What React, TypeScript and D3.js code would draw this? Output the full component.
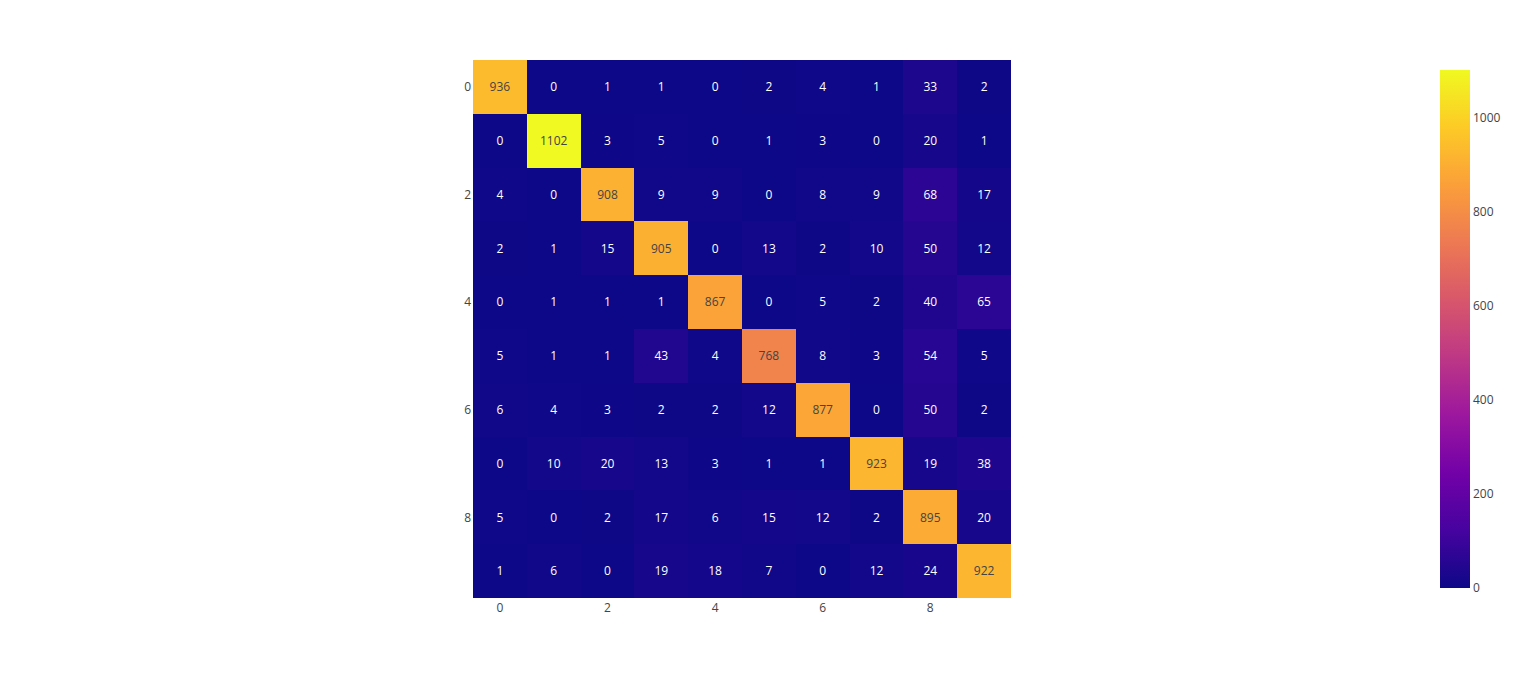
import React from "react";
import * as d3 from "d3";

const labels = [0, 1, 2, 3, 4, 5, 6, 7, 8, 9];
const axisTicks = [0, 2, 4, 6, 8];
const values: number[][] = [
  [936, 0, 1, 1, 0, 2, 4, 1, 33, 2],
  [0, 1102, 3, 5, 0, 1, 3, 0, 20, 1],
  [4, 0, 908, 9, 9, 0, 8, 9, 68, 17],
  [2, 1, 15, 905, 0, 13, 2, 10, 50, 12],
  [0, 1, 1, 1, 867, 0, 5, 2, 40, 65],
  [5, 1, 1, 43, 4, 768, 8, 3, 54, 5],
  [6, 4, 3, 2, 2, 12, 877, 0, 50, 2],
  [0, 10, 20, 13, 3, 1, 1, 923, 19, 38],
  [5, 0, 2, 17, 6, 15, 12, 2, 895, 20],
  [1, 6, 0, 19, 18, 7, 0, 12, 24, 922],
];
const colorbarTicks = [0, 200, 400, 600, 800, 1000];
const plasma = ["#0d0887", "#46039f", "#7201a8", "#9c179e", "#bd3786", "#d8576b", "#ed7953", "#fb9f3a", "#fdca26", "#f0f921"];

const W = 1520, H = 679;
const plot = { x0: 473, x1: 1011, y0: 60, y1: 598 };
const cb = { x: 1440, w: 30, y0: 70, y1: 588 };
const font = "'Open Sans', verdana, arial, sans-serif";

export default function App() {
  const flat = values.flat();
  const vmin = d3.min(flat)!, vmax = d3.max(flat)!;
  const color = d3
    .scaleLinear<string>()
    .domain(plasma.map((_, i) => vmin + (i / (plasma.length - 1)) * (vmax - vmin)))
    .range(plasma)
    .interpolate(d3.interpolateRgb);
  const x = d3.scaleBand<number>().domain(labels).range([plot.x0, plot.x1]).padding(0);
  const y = d3.scaleBand<number>().domain(labels).range([plot.y0, plot.y1]).padding(0);
  const cbScale = d3.scaleLinear().domain([vmin, vmax]).range([cb.y1, cb.y0]);
  const bw = x.bandwidth();

  const textColor = (c: string) => {
    const rgb = d3.rgb(c);
    const lum = (0.299 * rgb.r + 0.587 * rgb.g + 0.114 * rgb.b) / 255;
    return lum > 0.5 ? "#444" : "#fff";
  };

  return (
    <svg width={W} height={H} style={{ position: "absolute", left: 0, top: 0, background: "#fff" }}>
      <defs>
        <linearGradient id="cbgrad" x1="0" y1="1" x2="0" y2="0">
          {plasma.map((c, i) => (
            <stop key={i} offset={`${(i / (plasma.length - 1)) * 100}%`} stopColor={c} />
          ))}
        </linearGradient>
      </defs>
      <g shapeRendering="crispEdges">
        {values.map((row, r) =>
          row.map((v, c) => (
            <rect
              key={`${r}-${c}`}
              x={x(labels[c])!}
              y={y(labels[r])!}
              width={c === labels.length - 1 ? bw : bw + 1}
              height={r === labels.length - 1 ? bw : bw + 1}
              fill={color(v)}
            />
          ))
        )}
      </g>
      {values.map((row, r) =>
        row.map((v, c) => (
          <text
            key={`t${r}-${c}`}
            x={x(labels[c])! + bw / 2}
            y={y(labels[r])! + bw / 2}
            dy="0.35em"
            textAnchor="middle"
            fontFamily={font}
            fontSize={12}
            fill={textColor(color(v))}
          >
            {v}
          </text>
        ))
      )}
      {axisTicks.map((t) => (
        <text
          key={`x${t}`}
          x={x(t)! + bw / 2}
          y={plot.y1 + 14}
          textAnchor="middle"
          fontFamily={font}
          fontSize={12}
          fill="#444"
        >
          {t}
        </text>
      ))}
      {axisTicks.map((t) => (
        <text
          key={`y${t}`}
          x={plot.x0 - 2}
          y={y(t)! + bw / 2}
          dy="0.35em"
          textAnchor="end"
          fontFamily={font}
          fontSize={12}
          fill="#444"
        >
          {t}
        </text>
      ))}
      <rect x={cb.x} y={cb.y0} width={cb.w} height={cb.y1 - cb.y0} fill="url(#cbgrad)" />
      {colorbarTicks.map((t) => (
        <text
          key={`cb${t}`}
          x={cb.x + cb.w + 3}
          y={cbScale(t)}
          dy="0.35em"
          fontFamily={font}
          fontSize={12}
          fill="#444"
        >
          {t}
        </text>
      ))}
    </svg>
  );
}
